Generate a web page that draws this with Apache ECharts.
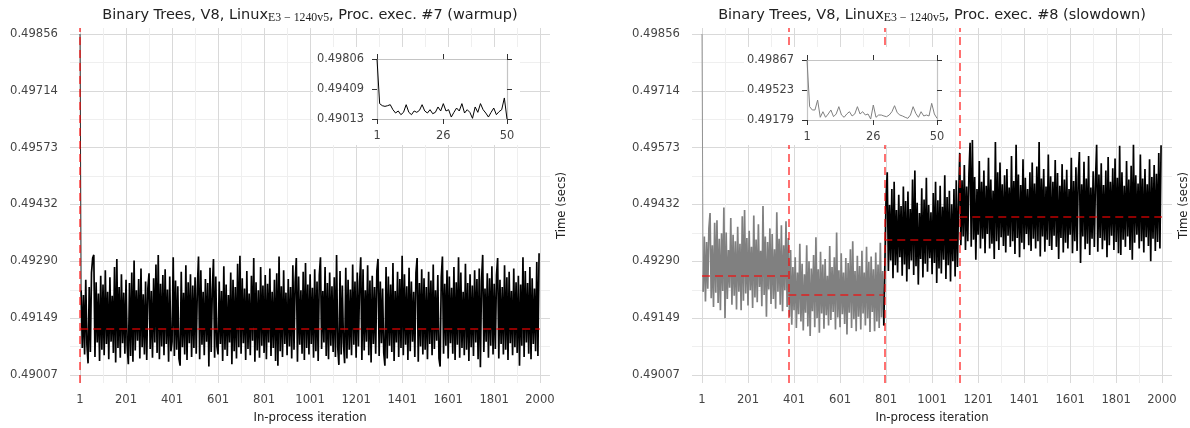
<!DOCTYPE html>
<html>
<head>
<meta charset="utf-8">
<script src="https://cdn.jsdelivr.net/npm/echarts@6/dist/echarts.min.js"></script>
<style>
html, body { margin: 0; padding: 0; background: #fff; }
#chart { width: 1190px; height: 428px; }
</style>
</head>
<body>
<div id="chart"></div>
<script>
// timings, one sample every 5 iterations (1, 6, 11, ...)
var sampleStep = 5;

var leftTimes = [
  0.49856,0.49218,0.49074,0.49206,0.49058,0.49244,0.49082,0.49036,0.49226,0.49064,0.49262,0.49298,0.49306,0.49052,0.49238,0.49088,0.49210,0.49042,0.49254,0.49070,
  0.49232,0.49056,0.49268,0.49084,0.49214,0.49046,0.49250,0.49090,0.49204,0.49062,0.49276,0.49038,0.49296,0.49074,0.49226,0.49050,0.49258,0.49086,0.49212,0.49060,
  0.49244,0.49080,0.49034,0.49236,0.49054,0.49262,0.49040,0.49292,0.49068,0.49218,0.49092,0.49246,0.49048,0.49272,0.49076,0.49208,0.49058,0.49240,0.49044,0.49224,
  0.49260,0.49072,0.49216,0.49050,0.49248,0.49088,0.49282,0.49062,0.49306,0.49046,0.49234,0.49078,0.49256,0.49056,0.49270,0.49084,0.49220,0.49040,0.49252,0.49066,
  0.49090,0.49300,0.49054,0.49242,0.49070,0.49228,0.49048,0.49030,0.49264,0.49076,0.49212,0.49058,0.49280,0.49044,0.49238,0.49086,0.49258,0.49052,0.49230,0.49074,
  0.49250,0.49060,0.49226,0.49302,0.49046,0.49268,0.49082,0.49214,0.49056,0.49246,0.49090,0.49236,0.49028,0.49274,0.49064,0.49220,0.49296,0.49050,0.49252,0.49078,
  0.49058,0.49240,0.49084,0.49216,0.49042,0.49278,0.49070,0.49232,0.49054,0.49206,0.49088,0.49262,0.49034,0.49244,0.49066,0.49226,0.49048,0.49284,0.49076,0.49304,
  0.49060,0.49248,0.49086,0.49222,0.49044,0.49266,0.49072,0.49210,0.49056,0.49254,0.49092,0.49298,0.49040,0.49238,0.49068,0.49218,0.49050,0.49276,0.49080,0.49230,
  0.49062,0.49256,0.49046,0.49234,0.49088,0.49272,0.49054,0.49214,0.49074,0.49244,0.49042,0.49260,0.49030,0.49302,0.49066,0.49228,0.49052,0.49268,0.49084,0.49212,
  0.49056,0.49246,0.49078,0.49226,0.49048,0.49280,0.49070,0.49238,0.49298,0.49040,0.49252,0.49082,0.49218,0.49060,0.49264,0.49044,0.49286,0.49074,0.49232,0.49058,
  0.49258,0.49084,0.49224,0.49050,0.49270,0.49066,0.49240,0.49042,0.49256,0.49300,0.49072,0.49216,0.49088,0.49276,0.49054,0.49236,0.49046,0.49262,0.49080,0.49228,
  0.49064,0.49250,0.49052,0.49306,0.49076,0.49032,0.49266,0.49058,0.49230,0.49086,0.49036,0.49274,0.49048,0.49244,0.49070,0.49220,0.49056,0.49282,0.49082,0.49240,
  0.49050,0.49262,0.49078,0.49236,0.49300,0.49044,0.49270,0.49068,0.49218,0.49090,0.49280,0.49056,0.49242,0.49038,0.49254,0.49084,0.49226,0.49060,0.49266,0.49296,
  0.49054,0.49240,0.49086,0.49222,0.49062,0.49030,0.49276,0.49048,0.49252,0.49080,0.49232,0.49064,0.49286,0.49042,0.49216,0.49088,0.49264,0.49052,0.49246,0.49074,
  0.49304,0.49056,0.49258,0.49082,0.49228,0.49044,0.49274,0.49066,0.49240,0.49090,0.49214,0.49052,0.49262,0.49298,0.49040,0.49236,0.49078,0.49270,0.49058,0.49248,
  0.49070,0.49226,0.49046,0.49264,0.49084,0.49242,0.49056,0.49282,0.49072,0.49218,0.49092,0.49256,0.49048,0.49028,0.49250,0.49302,0.49060,0.49234,0.49080,0.49268,
  0.49048,0.49252,0.49086,0.49224,0.49060,0.49276,0.49044,0.49238,0.49082,0.49300,0.49050,0.49262,0.49074,0.49214,0.49056,0.49284,0.49070,0.49236,0.49042,0.49258,
  0.49076,0.49230,0.49054,0.49268,0.49088,0.49246,0.49046,0.49272,0.49026,0.49242,0.49306,0.49064,0.49222,0.49090,0.49260,0.49050,0.49248,0.49080,0.49278,0.49058,
  0.49234,0.49072,0.49256,0.49298,0.49048,0.49244,0.49084,0.49226,0.49058,0.49280,0.49070,0.49250,0.49044,0.49264,0.49086,0.49216,0.49056,0.49272,0.49076,0.49238,
  0.49062,0.49254,0.49030,0.49232,0.49080,0.49300,0.49052,0.49266,0.49088,0.49236,0.49060,0.49276,0.49046,0.49248,0.49084,0.49222,0.49066,0.49288,0.49054,0.49310
];

var rightTimes = [
  0.49856,
  0.49214,0.49352,0.49190,0.49338,0.49222,0.49372,0.49410,0.49198,0.49330,0.49176,0.49386,0.49212,0.49392,0.49186,0.49346,0.49168,0.49360,0.49216,0.49424,0.49148,
  0.49362,0.49196,0.49318,0.49224,0.49398,0.49182,0.49356,0.49204,0.49340,0.49170,0.49376,0.49214,0.49334,0.49168,0.49402,0.49192,0.49418,0.49210,0.49348,0.49180,
  0.49366,0.49218,0.49326,0.49174,0.49404,0.49200,0.49344,0.49188,0.49382,0.49226,0.49316,0.49178,0.49428,0.49206,0.49352,0.49152,0.49338,0.49220,0.49372,0.49184,
  0.49358,0.49196,0.49320,0.49172,0.49412,0.49214,0.49346,0.49182,0.49380,0.49166,0.49330,0.49218,0.49390,0.49176,0.49348,
  0.49152,0.49318,0.49132,0.49276,0.49168,0.49300,0.49124,0.49262,0.49158,0.49334,0.49140,0.49284,0.49118,0.49258,0.49162,0.49330,0.49128,0.49290,0.49104,0.49272,
  0.49166,0.49306,0.49126,0.49350,0.49148,0.49270,0.49112,0.49314,0.49160,0.49282,0.49122,0.49296,0.49156,0.49254,0.49130,0.49328,0.49144,0.49276,0.49164,0.49300,
  0.49120,0.49362,0.49150,0.49268,0.49126,0.49310,0.49158,0.49262,0.49134,0.49298,0.49108,0.49286,0.49162,0.49320,0.49124,0.49340,0.49146,0.49266,0.49116,0.49304,
  0.49152,0.49278,0.49120,0.49316,0.49160,0.49262,0.49130,0.49326,0.49148,0.49288,0.49114,0.49302,0.49164,0.49270,0.49116,0.49312,0.49140,0.49282,0.49124,0.49336,0.49150,0.49266,0.49130,
  0.49290,0.49452,0.49512,0.49266,0.49430,0.49292,0.49470,0.49248,0.49488,0.49280,0.49418,0.49262,0.49456,0.49300,0.49428,0.49254,0.49476,0.49282,0.49440,0.49240,
  0.49464,0.49270,0.49420,0.49292,0.49494,0.49256,0.49516,0.49278,0.49436,0.49232,0.49410,0.49296,0.49472,0.49250,0.49444,0.49284,0.49498,0.49264,0.49430,0.49298,
  0.49412,0.49258,0.49460,0.49286,0.49488,0.49236,0.49442,0.49272,0.49478,0.49260,0.49426,0.49294,0.49504,0.49246,0.49450,0.49280,0.49466,0.49240,0.49432,0.49290,
  0.49470,0.49252,0.49492,0.49276,0.49440,
  0.49560,0.49330,0.49492,0.49352,0.49530,0.49318,0.49476,0.49340,0.49508,0.49585,0.49326,0.49592,0.49344,0.49500,0.49294,0.49470,0.49356,0.49540,0.49322,0.49488,
  0.49346,0.49516,0.49310,0.49478,0.49358,0.49548,0.49322,0.49494,0.49334,0.49466,0.49296,0.49587,0.49340,0.49512,0.49318,0.49536,0.49350,0.49482,0.49328,0.49504,
  0.49312,0.49520,0.49354,0.49474,0.49326,0.49552,0.49340,0.49490,0.49308,0.49580,0.49348,0.49506,0.49300,0.49480,0.49336,0.49544,0.49320,0.49498,0.49358,0.49470,
  0.49330,0.49512,0.49316,0.49536,0.49346,0.49484,0.49322,0.49526,0.49340,0.49587,0.49302,0.49496,0.49352,0.49520,0.49314,0.49476,0.49344,0.49556,0.49328,0.49502,
  0.49318,0.49488,0.49354,0.49542,0.49326,0.49510,0.49296,0.49478,0.49348,0.49532,0.49312,0.49494,0.49336,0.49518,0.49322,0.49470,0.49356,0.49548,0.49310,0.49490,
  0.49340,0.49524,0.49316,0.49500,0.49562,0.49286,0.49482,0.49352,0.49538,0.49320,0.49496,0.49334,0.49552,0.49306,0.49474,0.49346,0.49514,0.49326,0.49492,0.49580,
  0.49314,0.49506,0.49348,0.49534,0.49320,0.49480,0.49342,0.49516,0.49300,0.49550,0.49330,0.49488,0.49354,0.49522,0.49318,0.49546,0.49338,0.49498,0.49310,0.49578,
  0.49306,0.49512,0.49344,0.49478,0.49326,0.49540,0.49352,0.49494,0.49318,0.49528,0.49294,0.49580,0.49336,0.49504,0.49356,0.49484,0.49322,0.49556,0.49340,0.49496,
  0.49312,0.49520,0.49350,0.49482,0.49328,0.49544,0.49290,0.49500,0.49346,0.49530,0.49316,0.49508,0.49338,0.49560,0.49322,0.49579
];
var rightGreySamples = 159; // samples up to iteration ~791 are drawn grey

// first 50 iterations, shown in the insets
var leftInset = [
  0.49806,0.49216,0.49189,0.49180,0.49189,0.49202,0.49136,0.49092,0.49119,0.49070,
  0.49101,0.49202,0.49101,0.49070,0.49119,0.49101,0.49127,0.49202,0.49119,0.49092,
  0.49136,0.49083,0.49101,0.49172,0.49119,0.49216,0.49119,0.49136,0.49039,0.49101,
  0.49158,0.49119,0.49216,0.49092,0.49136,0.49101,0.49022,0.49172,0.49101,0.49216,
  0.49136,0.49092,0.49039,0.49101,0.49158,0.49070,0.49110,0.49136,0.49291,0.49013
];
var rightInset = [
  0.49867,0.49332,0.49294,0.49294,0.49408,0.49210,0.49274,0.49210,0.49248,0.49294,
  0.49217,0.49248,0.49332,0.49236,0.49210,0.49248,0.49274,0.49225,0.49248,0.49332,
  0.49248,0.49274,0.49236,0.49248,0.49190,0.49351,0.49210,0.49236,0.49236,0.49225,
  0.49217,0.49236,0.49274,0.49343,0.49263,0.49236,0.49225,0.49210,0.49198,0.49236,
  0.49332,0.49255,0.49210,0.49274,0.49225,0.49236,0.49225,0.49370,0.49248,0.49198
];

// changepoints and segment means (red dashed lines)
var leftBounds = [1.8, 2000];
var leftMeans = [0.49122];
var rightBounds = [1, 376, 793, 1119, 2000];
var rightMeans = [0.49254, 0.49206, 0.49344, 0.49401];

var xTicks = [1, 201, 401, 601, 801, 1001, 1201, 1401, 1601, 1801, 2000];
var xMinor = [101, 301, 501, 701, 901, 1101, 1301, 1501, 1701, 1900.5];
var yTicks = [0.49007, 0.49149, 0.4929, 0.49432, 0.49573, 0.49714, 0.49856];
var yMinor = [0.49078, 0.49219, 0.49361, 0.49502, 0.49643, 0.49785];
var insetXTicks = [1, 26, 50];
var leftInsetYTicks = [0.49013, 0.49409, 0.49806];
var rightInsetYTicks = [0.49179, 0.49523, 0.49867];

var font = 'DejaVu Sans';
var labelColor = '#444';
var red = 'rgba(255,0,0,0.75)';

function samplePoints(values, from, to) {
  var pts = [];
  for (var i = from; i < to; i++) pts.push([1 + i * sampleStep, values[i]]);
  return pts;
}
function insetPoints(values) {
  return values.map(function (v, i) { return [i + 1, v]; });
}
function segLines(bounds, means) {
  var lines = [];
  for (var i = 0; i < means.length; i++) {
    lines.push([{ coord: [bounds[i], means[i]] }, { coord: [bounds[i + 1], means[i]] }]);
  }
  return lines;
}
function fmt5(v) { return v.toFixed(5); }
function plain(v) { return String(v); }

function mainAxes(grid) {
  var xs = [{
    type: 'value', gridIndex: grid, position: 'bottom', min: -42.5, max: 2043.5,
    axisLine: { show: false }, axisTick: { show: false, customValues: xTicks },
    axisLabel: { customValues: xTicks, margin: 11, fontSize: 11.6, fontFamily: font, color: labelColor, formatter: plain },
    splitLine: { show: true, lineStyle: { color: '#d9d9d9', width: 1 } },
    name: 'In-process iteration', nameLocation: 'middle', nameGap: 29,
    nameTextStyle: { fontSize: 11.7, fontFamily: font, color: '#222' }
  }, {
    type: 'value', gridIndex: grid, position: 'top', min: -42.5, max: 2043.5,
    axisLine: { show: false }, axisTick: { show: false, customValues: xMinor },
    axisLabel: { show: false }, splitLine: { show: true, lineStyle: { color: '#efefef', width: 1 } }
  }];
  var ys = [{
    type: 'value', gridIndex: grid, position: 'left', min: 0.48987, max: 0.49871,
    axisLine: { show: false }, axisTick: { show: false, customValues: yTicks },
    axisLabel: { customValues: yTicks, margin: 12, fontSize: 11.6, fontFamily: font, color: labelColor, formatter: fmt5 },
    splitLine: { show: true, lineStyle: { color: '#d9d9d9', width: 1 } }
  }, {
    type: 'value', gridIndex: grid, position: 'right', min: 0.48987, max: 0.49871,
    axisLine: { show: false }, axisTick: { show: false, customValues: yMinor },
    axisLabel: { show: false }, splitLine: { show: true, lineStyle: { color: '#efefef', width: 1 } },
    name: 'Time (secs)', nameLocation: 'middle', nameGap: 6, nameRotate: 90,
    nameTextStyle: { fontSize: 11.7, fontFamily: font, color: '#222' }
  }];
  return { x: xs, y: ys };
}

function insetAxes(grid, yT) {
  var line = { show: true, onZero: false, lineStyle: { color: '#c4c4c4', width: 1.2 } };
  var tick = { show: true, length: 5, lineStyle: { color: '#333', width: 1 } };
  var lab = { fontSize: 11.4, fontFamily: font, color: labelColor };
  var xs = [{
    type: 'value', gridIndex: grid, position: 'bottom', min: 1, max: 50, z: 20,
    axisLine: line, axisTick: Object.assign({ customValues: insetXTicks }, tick),
    axisLabel: Object.assign({ customValues: insetXTicks, margin: 12, formatter: plain }, lab), splitLine: { show: false }
  }, {
    type: 'value', gridIndex: grid, position: 'top', min: 1, max: 50, z: 20,
    axisLine: line, axisTick: Object.assign({ customValues: insetXTicks }, tick),
    axisLabel: { show: false }, splitLine: { show: false }
  }];
  var ys = [{
    type: 'value', gridIndex: grid, position: 'left', min: yT[0], max: yT[2], z: 20,
    axisLine: line, axisTick: Object.assign({ customValues: yT }, tick),
    axisLabel: Object.assign({ customValues: yT, margin: 13, formatter: fmt5 }, lab), splitLine: { show: false }
  }, {
    type: 'value', gridIndex: grid, position: 'right', min: yT[0], max: yT[2], z: 20,
    axisLine: line, axisTick: Object.assign({ customValues: yT }, tick),
    axisLabel: { show: false }, splitLine: { show: false }
  }];
  return { x: xs, y: ys };
}

var mL = mainAxes(0), mR = mainAxes(1), iL = insetAxes(2, leftInsetYTicks), iR = insetAxes(3, rightInsetYTicks);

var titleRich = {
  a: { fontFamily: font, fontSize: 14.5, fontWeight: 'normal', color: '#222', lineHeight: 18, verticalAlign: 'top' },
  s: { fontFamily: 'Liberation Serif', fontSize: 11.8, fontWeight: 'normal', color: '#222', lineHeight: 18, padding: [4, 0, 0, 0], verticalAlign: 'top' }
};
function title(x, tail) {
  return {
    text: '{a|Binary Trees, V8, Linux}{s|E3 \u2212 1240v5}{a|, ' + tail + '}',
    left: x, top: 8, textAlign: 'center', padding: 0,
    textStyle: { fontWeight: 'normal', rich: titleRich }
  };
}

function redMarks(xi, yi, bounds, means, verticals, z) {
  return {
    type: 'line', xAxisIndex: xi, yAxisIndex: yi, data: [], z: z, silent: true,
    markLine: {
      silent: true, symbol: ['none', 'none'], label: { show: false }, animation: false,
      lineStyle: { color: red, width: 1.5, type: [8, 5] },
      emphasis: { disabled: true },
      data: verticals.map(function (v) { return { xAxis: v }; }).concat(segLines(bounds, means))
    }
  };
}

function lineSeries(xi, yi, data, color, width, z) {
  return {
    type: 'line', xAxisIndex: xi, yAxisIndex: yi, data: data, z: z,
    symbol: 'none', silent: true, lineStyle: { color: color, width: width }
  };
}

var option = {
  animation: false,
  backgroundColor: '#fff',
  title: [title(310, 'Proc. exec. #7 (warmup)'), title(932, 'Proc. exec. #8 (slowdown)')],
  grid: [
    { left: 70, top: 28, width: 480, height: 355, outerBoundsMode: 'none' },
    { left: 692, top: 28, width: 480, height: 355, outerBoundsMode: 'none' },
    { left: 377, top: 59, width: 130, height: 60, outerBoundsMode: 'none' },
    { left: 807, top: 60, width: 130, height: 60, outerBoundsMode: 'none' }
  ],
  xAxis: mL.x.concat(mR.x, iL.x, iR.x),
  yAxis: mL.y.concat(mR.y, iL.y, iR.y),
  graphic: { elements: [
    { type: 'rect', shape: { x: 313, y: 47, width: 207, height: 98 }, style: { fill: '#fff' }, z: 10, silent: true },
    { type: 'rect', shape: { x: 744, y: 47, width: 206, height: 98 }, style: { fill: '#fff' }, z: 10, silent: true }
  ] },
  series: [
    // first iteration drawn thin, the rest as a dense band
    lineSeries(0, 0, samplePoints(leftTimes, 0, 2), '#000', 0.8, 2),
    lineSeries(0, 0, samplePoints(leftTimes, 1, leftTimes.length), '#000', 1.7, 2),
    redMarks(0, 0, leftBounds, leftMeans, [leftBounds[0]], 5),
    lineSeries(2, 2, samplePoints(rightTimes, 0, 2), '#808080', 0.8, 2),
    lineSeries(2, 2, samplePoints(rightTimes, 1, rightGreySamples), '#808080', 1.7, 2),
    lineSeries(2, 2, samplePoints(rightTimes, rightGreySamples - 1, rightTimes.length), '#000', 1.7, 2),
    redMarks(2, 2, rightBounds, rightMeans, rightBounds.slice(1, -1), 5),
    lineSeries(4, 4, insetPoints(leftInset), '#000', 1, 30),
    redMarks(4, 4, [1.8, 50], leftMeans, [1.8], 31),
    lineSeries(6, 6, insetPoints(rightInset), '#808080', 1, 30),
    redMarks(6, 6, [1, 50], [rightMeans[0]], [], 31)
  ]
};

var chart = echarts.init(document.getElementById('chart'));
chart.setOption(option);
</script>
</body>
</html>
